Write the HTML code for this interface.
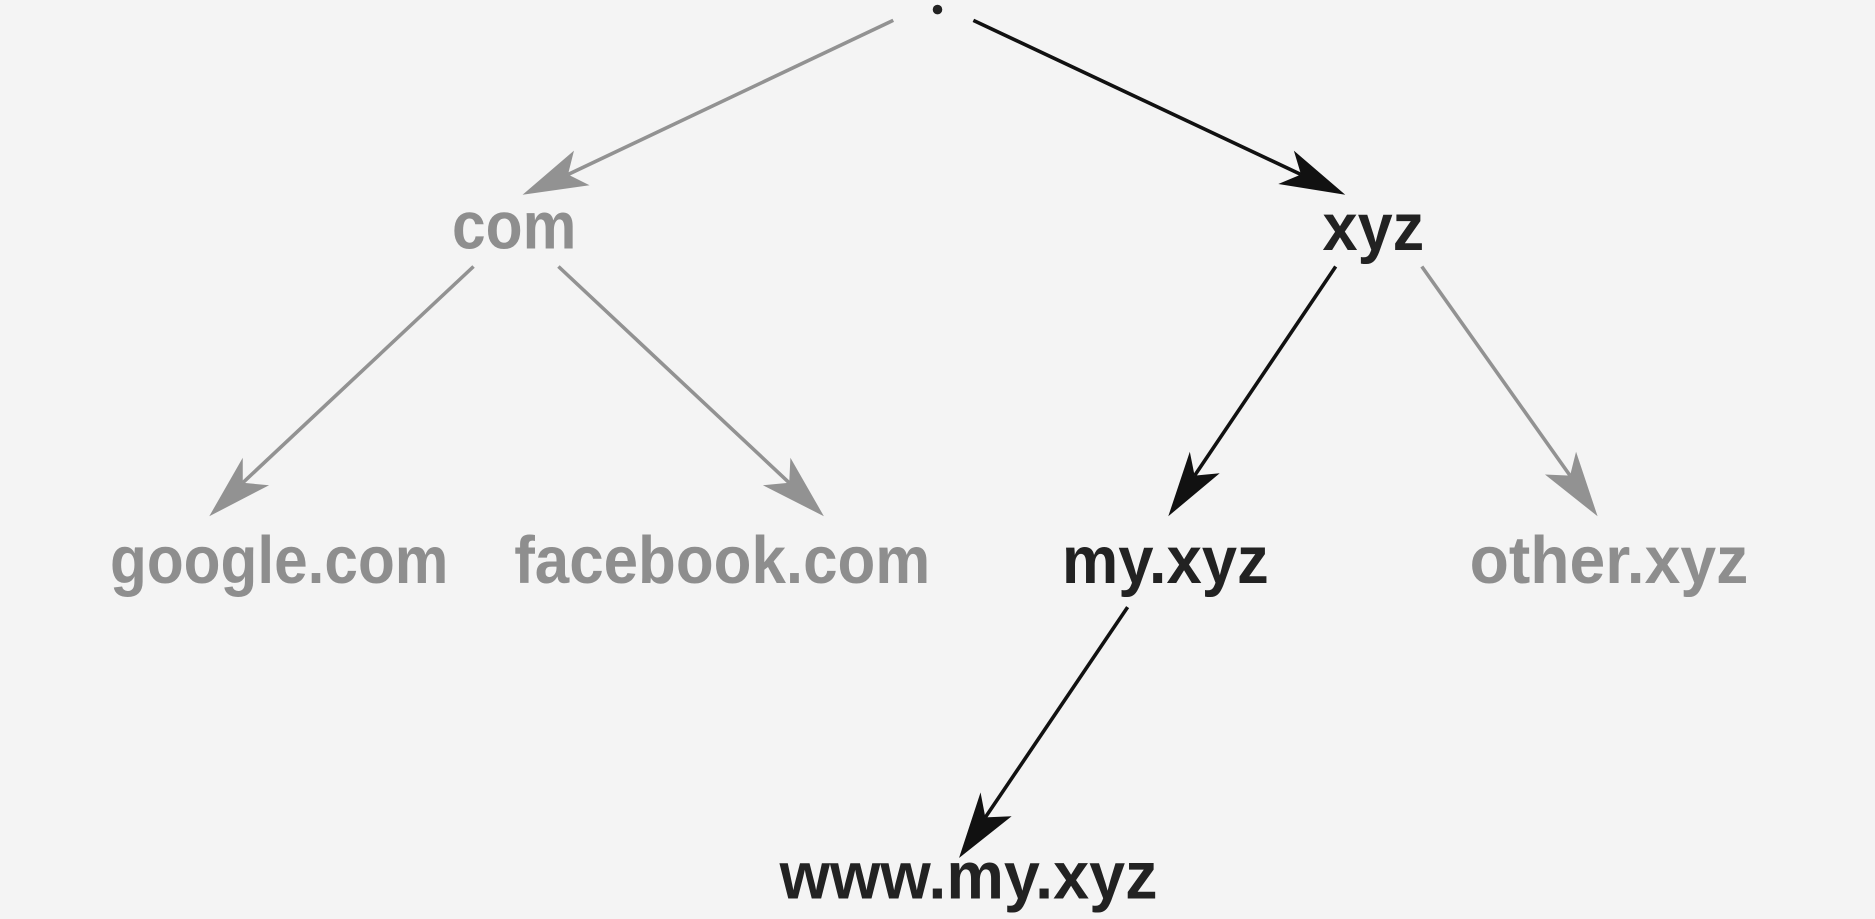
<!DOCTYPE html>
<html><head><meta charset="utf-8"><style>
html,body{margin:0;padding:0;background:#f4f4f4;}
svg{display:block}
text{font-family:"Liberation Sans",sans-serif;font-weight:bold;}
</style></head><body>
<svg width="1875" height="919" viewBox="0 0 1568 769" preserveAspectRatio="none" xmlns="http://www.w3.org/2000/svg">
<rect width="1568" height="769" fill="#f4f4f4"/>
<circle cx="784" cy="8" r="4" fill="#222"/>
<g stroke-width="3" fill="none">
<line x1="747" y1="17" x2="475" y2="146" stroke="#929292"/>
<line x1="814" y1="17" x2="1088" y2="146" stroke="#111"/>
<line x1="396" y1="223" x2="203" y2="404" stroke="#929292"/>
<line x1="467" y1="223" x2="660" y2="404" stroke="#929292"/>
<line x1="1117" y1="223" x2="999" y2="398" stroke="#111"/>
<line x1="1189" y1="223" x2="1313" y2="398" stroke="#929292"/>
<line x1="943" y1="508" x2="824" y2="684" stroke="#111"/>
</g>
<polygon points="437,163 480,126 475,146 493,155" fill="#929292"/>
<polygon points="1125,163 1082,126 1088,146 1069,154" fill="#111"/>
<polygon points="175,432 203,383 203,404 225,406" fill="#929292"/>
<polygon points="689,432 661,383 660,404 638,406" fill="#929292"/>
<polygon points="977,432 995,378 999,398 1020,396" fill="#111"/>
<polygon points="1336,432 1318,378 1313,398 1292,397" fill="#929292"/>
<polygon points="802,718 820,663 824,684 846,683" fill="#111"/>
<g font-size="56">
<text x="378" y="208" textLength="104" lengthAdjust="spacingAndGlyphs" fill="#8e8e8e">com</text>
<text x="1106" y="209" textLength="85" lengthAdjust="spacingAndGlyphs" fill="#222">xyz</text>
<text x="92" y="488" textLength="283" lengthAdjust="spacingAndGlyphs" fill="#8e8e8e">google.com</text>
<text x="430" y="488" textLength="348" lengthAdjust="spacingAndGlyphs" fill="#8e8e8e">facebook.com</text>
<text x="888" y="488" textLength="173" lengthAdjust="spacingAndGlyphs" fill="#222">my.xyz</text>
<text x="1229" y="488" textLength="233" lengthAdjust="spacingAndGlyphs" fill="#8e8e8e">other.xyz</text>
<text x="652" y="752" textLength="316" lengthAdjust="spacingAndGlyphs" fill="#222">www.my.xyz</text>
</g>
</svg>
</body></html>
